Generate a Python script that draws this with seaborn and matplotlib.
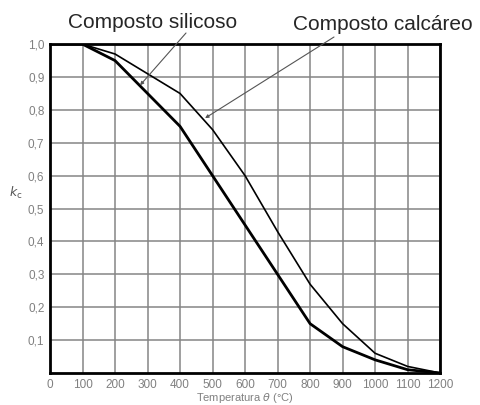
import numpy as np
import pandas as pd
import matplotlib
matplotlib.use('Agg')
import matplotlib.pyplot as plt
import seaborn as sns

# data (Eurocode-style kc reduction)
temps = [0, 100, 200, 300, 400, 500, 600, 700, 800, 900, 1000, 1100, 1200]
kc_silicoso = [1.0, 1.0, 0.95, 0.85, 0.75, 0.60, 0.45, 0.30, 0.15, 0.08, 0.04, 0.01, 0.0]
kc_calcareo = [1.0, 1.0, 0.97, 0.91, 0.85, 0.74, 0.60, 0.43, 0.27, 0.15, 0.06, 0.02, 0.0]
x_ticks = [0, 100, 200, 300, 400, 500, 600, 700, 800, 900, 1000, 1100, 1200]
y_ticks = [0.1, 0.2, 0.3, 0.4, 0.5, 0.6, 0.7, 0.8, 0.9, 1.0]
y_labels = ['0,1', '0,2', '0,3', '0,4', '0,5', '0,6', '0,7', '0,8', '0,9', '1,0']

sns.set_style('white')
plt.rcParams['font.family'] = ['Liberation Sans', 'DejaVu Sans']

df = pd.DataFrame({'T': temps, 'sil': kc_silicoso, 'cal': kc_calcareo})

W, H = 481, 405
fig = plt.figure(figsize=(W / 100, H / 100), dpi=100)
ax = fig.add_axes([0.104, 0.079, 0.811, 0.812])

sns.lineplot(data=df, x='T', y='sil', ax=ax, color='black', linewidth=2.0)
sns.lineplot(data=df, x='T', y='cal', ax=ax, color='black', linewidth=1.2)

ax.set_xlim(0, 1200)
ax.set_ylim(0, 1.0)
ax.set_xticks(x_ticks)
ax.set_yticks(y_ticks)
ax.set_yticklabels(y_labels)
ax.grid(True, color='#858585', linewidth=1.1)
ax.set_axisbelow(True)
for s in ax.spines.values():
    s.set_color('black')
    s.set_linewidth(2)
ax.tick_params(length=0, labelsize=8.5, labelcolor='#808080', pad=4)
ax.set_xlabel('Temperatura $\\theta$ (°C)', fontsize=8, color='#808080', labelpad=0)
ax.set_ylabel('')
fig.text(0.032, 0.523, '$k_\\mathrm{c}$', fontsize=9, color='#555555', ha='center', va='center')

# labels and leader arrows
fig.text(153 / W, 1 - 22 / H, 'Composto silicoso', fontsize=15, ha='center', va='center')
fig.text(383 / W, 1 - 24 / H, 'Composto calcáreo', fontsize=15, ha='center', va='center')
arrow = dict(arrowstyle='-|>', color='#555555', lw=0.8, mutation_scale=5, shrinkA=0, shrinkB=0)
ax.annotate('', xy=(277, 0.875), xytext=(186, H - 33), textcoords='figure pixels',
            arrowprops=arrow, annotation_clip=False)
ax.annotate('', xy=(477, 0.775), xytext=(334, H - 37), textcoords='figure pixels',
            arrowprops=arrow, annotation_clip=False)

fig.savefig('out.png', dpi=100)
